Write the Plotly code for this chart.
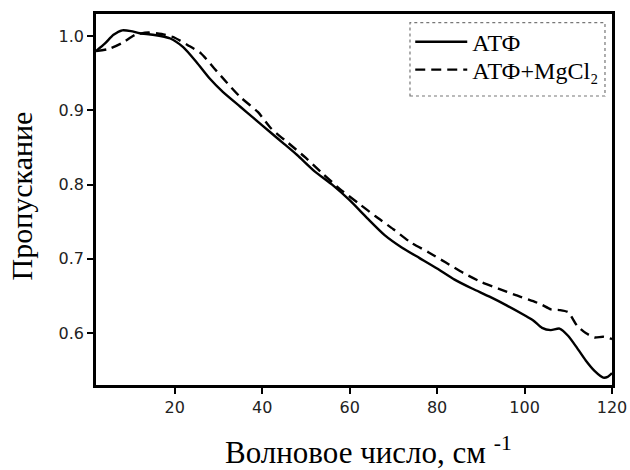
import plotly.graph_objects as go

# Transmission spectra, wavenumber in cm^-1
atp_x = [2, 4, 6, 8, 10, 12, 15, 19, 22, 25, 28, 31, 35, 38, 42, 45, 48, 52, 56, 60,
         64, 68, 72, 76, 80, 84, 88, 92, 96, 100, 102, 104, 106, 108, 110, 112, 114,
         116, 118, 119, 120]
atp_y = [0.980, 0.990, 1.002, 1.008, 1.007, 1.004, 1.002, 0.997, 0.985, 0.965, 0.943,
         0.925, 0.905, 0.890, 0.870, 0.855, 0.840, 0.818, 0.800, 0.779, 0.755, 0.732,
         0.715, 0.701, 0.687, 0.672, 0.660, 0.649, 0.637, 0.624, 0.617, 0.607, 0.604,
         0.606, 0.596, 0.580, 0.563, 0.549, 0.540, 0.541, 0.546]

atp_mg_x = [2, 5, 8, 11, 14, 17, 20, 23, 26, 29, 32, 35, 39, 42, 46, 50, 54, 58, 62, 66,
            70, 74, 78, 82, 86, 90, 94, 98, 102, 104, 106, 108, 110, 112, 114, 116, 118,
            120]
atp_mg_y = [0.980, 0.983, 0.991, 1.002, 1.005, 1.003, 0.998, 0.988, 0.977, 0.957, 0.937,
            0.918, 0.898, 0.876, 0.856, 0.836, 0.814, 0.793, 0.775, 0.757, 0.740, 0.722,
            0.709, 0.695, 0.681, 0.669, 0.660, 0.651, 0.643, 0.638, 0.632, 0.631, 0.628,
            0.610, 0.600, 0.594, 0.595, 0.592]

x_ticks = [20, 40, 60, 80, 100, 120]
y_ticks = [0.6, 0.7, 0.8, 0.9, 1.0]

serif = "Liberation Serif, Times New Roman, serif"
sans = "DejaVu Sans, sans-serif"

fig = go.Figure()
fig.add_trace(go.Scatter(
    x=atp_x, y=atp_y, mode="lines", name="АТФ", legend="legend",
    line=dict(color="black", width=2.4, shape="spline", smoothing=0.6),
))
fig.add_trace(go.Scatter(
    x=atp_mg_x, y=atp_mg_y, mode="lines", name="АТФ+MgCl₂", legend="legend2",
    line=dict(color="black", width=2.4, dash="10px,6px", shape="spline", smoothing=0.6),
))

axis_common = dict(
    showline=True, linecolor="black", linewidth=2.5, mirror=True,
    ticks="outside", ticklen=6, tickwidth=2, tickcolor="black",
    showgrid=False, zeroline=False, automargin=False,
    tickfont=dict(family=sans, size=16, color="#222"),
)

# one legend per curve so the two rows sit close together inside a shared frame
legend_common = dict(
    x=0.609, xanchor="left", yanchor="middle",
    bgcolor="rgba(0,0,0,0)", borderwidth=0,
    font=dict(family=serif, size=24, color="black"),
    itemwidth=52,
)

fig.update_layout(
    width=630, height=470,
    margin=dict(l=96, r=18, t=14, b=85, autoexpand=False),
    plot_bgcolor="white", paper_bgcolor="white",
    showlegend=True,
    legend=dict(y=0.924, **legend_common),
    legend2=dict(y=0.849, **legend_common),
    xaxis=dict(range=[2, 120], tickvals=x_ticks, **axis_common),
    yaxis=dict(range=[0.53, 1.03], tickvals=y_ticks, tickformat=".1f", **axis_common),
    shapes=[
        dict(type="rect", xref="paper", yref="paper",
             x0=0.6085, x1=0.9864, y0=0.779, y1=0.9766,
             line=dict(color="#777", width=1.2, dash="dot"), layer="above"),
    ],
    annotations=[
        dict(text="Волновое число, см <sup>-1</sup>", xref="paper", yref="paper",
             x=0.528, y=-0.176, xanchor="center", yanchor="middle", showarrow=False,
             font=dict(family=serif, size=31, color="black")),
        dict(text="Пропускание", xref="paper", yref="paper",
             x=-0.144, y=0.51, xanchor="center", yanchor="middle", showarrow=False,
             textangle=-90, font=dict(family=serif, size=30, color="black")),
    ],
)

fig.write_html("out.html")
